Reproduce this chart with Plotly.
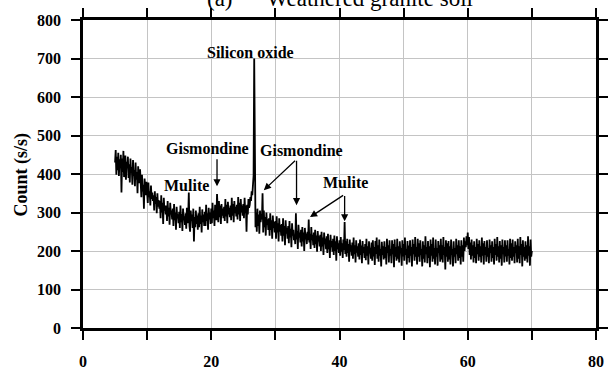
import plotly.graph_objects as go

# 2-theta sampling grid (degrees)
x_start = 5.0
x_step = 0.1

# Count (s/s) read row by row, one row per degree (x = d.0 ... d.9)
counts = [
    # 5
    430, 462, 398, 445, 410, 455, 395, 438, 418, 450,
    # 6
    352, 440, 405, 460, 392, 428, 448, 385, 432, 415,
    # 7
    445, 390, 425, 378, 440, 402, 418, 372, 436, 395,
    # 8
    410, 368, 430, 385, 405, 350, 420, 392, 376, 412,
    # 9
    385, 340, 398, 355, 372, 310, 388, 362, 345, 380,
    # 10
    362, 325, 378, 340, 355, 318, 370, 335, 352, 330,
    # 11
    345, 305, 355, 322, 340, 298, 350, 315, 332, 310,
    # 12
    330, 285, 345, 300, 325, 270, 338, 305, 318, 295,
    # 13
    318, 278, 330, 290, 312, 268, 325, 295, 305, 282,
    # 14
    310, 265, 322, 280, 300, 255, 315, 285, 295, 272,
    # 15
    302, 260, 318, 275, 296, 252, 310, 280, 290, 268,
    # 16
    298, 258, 312, 272, 290, 352, 265, 250, 305, 278,
    # 17
    295, 260, 310, 225, 288, 262, 305, 270, 292, 255,
    # 18
    298, 262, 315, 270, 292, 248, 308, 275, 295, 265,
    # 19
    302, 265, 320, 278, 298, 255, 312, 282, 300, 270,
    # 20
    310, 272, 325, 285, 305, 265, 320, 290, 280, 348,
    # 21
    305, 275, 330, 288, 318, 270, 322, 292, 310, 285,
    # 22
    315, 278, 335, 290, 320, 272, 328, 295, 312, 288,
    # 23
    318, 280, 338, 292, 322, 275, 330, 298, 315, 290,
    # 24
    320, 282, 340, 295, 325, 278, 335, 300, 318, 292,
    # 25
    322, 285, 338, 298, 318, 250, 320, 295, 335, 312,
    # 26
    320, 340, 330, 355, 345, 372, 395, 700, 300, 262,
    # 27
    300, 250, 310, 265, 295, 245, 305, 275, 290, 282,
    # 28
    350, 248, 305, 262, 288, 240, 300, 268, 282, 255,
    # 29
    285, 240, 298, 255, 280, 232, 292, 260, 275, 248,
    # 30
    278, 232, 290, 248, 272, 225, 285, 250, 268, 240,
    # 31
    270, 225, 285, 240, 265, 215, 280, 245, 260, 232,
    # 32
    265, 220, 278, 235, 258, 210, 272, 240, 255, 228,
    # 33
    240, 218, 298, 230, 252, 205, 268, 235, 248, 222,
    # 34
    255, 212, 262, 225, 248, 200, 260, 230, 245, 218,
    # 35
    250, 228, 282, 222, 245, 205, 262, 228, 242, 215,
    # 36
    248, 208, 255, 218, 240, 198, 252, 225, 238, 212,
    # 37
    242, 200, 250, 212, 235, 190, 248, 218, 232, 205,
    # 38
    238, 195, 245, 205, 228, 182, 242, 210, 226, 198,
    # 39
    232, 190, 240, 200, 225, 175, 238, 205, 220, 195,
    # 40
    228, 188, 236, 198, 220, 182, 230, 202, 275, 192,
    # 41
    225, 185, 232, 195, 218, 172, 230, 198, 215, 188,
    # 42
    222, 180, 235, 192, 215, 170, 228, 196, 212, 185,
    # 43
    220, 178, 230, 190, 214, 168, 226, 195, 210, 182,
    # 44
    218, 176, 232, 188, 212, 165, 225, 194, 208, 180,
    # 45
    222, 175, 228, 186, 210, 164, 226, 192, 235, 180,
    # 46
    215, 172, 230, 188, 205, 160, 224, 190, 212, 178,
    # 47
    225, 182, 210, 165, 232, 195, 215, 170, 228, 188,
    # 48
    205, 168, 228, 192, 218, 158, 230, 185, 210, 175,
    # 49
    232, 180, 212, 170, 225, 195, 208, 162, 228, 186,
    # 50
    218, 175, 235, 190, 205, 165, 226, 182, 214, 170,
    # 51
    228, 188, 210, 160, 230, 192, 218, 175, 236, 185,
    # 52
    210, 165, 232, 185, 220, 172, 228, 190, 205, 160,
    # 53
    225, 180, 215, 170, 238, 192, 210, 168, 226, 182,
    # 54
    212, 158, 230, 188, 218, 172, 235, 180, 208, 165,
    # 55
    230, 185, 208, 162, 226, 195, 215, 172, 232, 178,
    # 56
    215, 170, 236, 190, 210, 152, 228, 185, 220, 172,
    # 57
    226, 178, 212, 165, 230, 190, 205, 160, 225, 185,
    # 58
    208, 168, 232, 192, 215, 175, 228, 182, 212, 165,
    # 59
    228, 185, 215, 172, 235, 200, 225, 210, 238, 215,
    # 60
    248, 205, 236, 190, 222, 178, 230, 188, 215, 170,
    # 61
    225, 182, 210, 168, 232, 192, 218, 175, 228, 185,
    # 62
    212, 170, 235, 188, 220, 165, 226, 190, 210, 172,
    # 63
    228, 185, 208, 168, 230, 195, 215, 172, 225, 182,
    # 64
    210, 165, 232, 190, 218, 175, 236, 185, 212, 170,
    # 65
    226, 180, 215, 162, 230, 192, 210, 170, 228, 186,
    # 66
    215, 172, 228, 188, 205, 165, 232, 182, 220, 175,
    # 67
    230, 185, 210, 168, 225, 195, 215, 170, 232, 180,
    # 68
    212, 168, 236, 190, 218, 160, 228, 185, 210, 175,
    # 69
    225, 180, 215, 170, 238, 188, 212, 162, 230, 185,
    # 70
    200,
]

two_theta = [round(x_start + x_step * i, 2) for i in range(len(counts))]

x_tick_vals = [0, 10, 20, 30, 40, 50, 60, 70, 80]
x_tick_text = ["0", "", "20", "", "40", "", "60", "", "80"]
y_tick_vals = [0, 100, 200, 300, 400, 500, 600, 700, 800]

title_text = "(a)\u00a0\u00a0\u00a0\u00a0\u00a0 Weathered granite soil"
y_title = "Count (s/s)"

# peak labels: (text, x, y)
labels = [
    ("Silicon oxide", 26.1, 716),
    ("Gismondine", 19.35, 465),
    ("Gismondine", 34.0, 462),
    ("Mulite", 16.1, 371),
    ("Mulite", 41.0, 377),
]
# arrows: (tip x, tip y, tail x, tail y)
arrows = [
    (20.9, 368, 20.9, 442),
    (28.2, 358, 33.3, 438),
    (33.3, 319, 33.3, 438),
    (35.4, 288, 40.8, 347),
    (40.8, 277, 40.8, 347),
]

FONT = "Liberation Serif"

fig = go.Figure()
fig.add_trace(go.Scatter(
    x=two_theta, y=counts, mode="lines",
    line=dict(color="black", width=1.8),
    showlegend=False, hoverinfo="skip",
))

for t, lx, ly in labels:
    fig.add_annotation(
        x=lx, y=ly, xref="x", yref="y", text="<b>%s</b>" % t,
        showarrow=False, xanchor="center", yanchor="middle",
        font=dict(family=FONT, size=16, color="black"),
    )

for tx, ty, sx, sy in arrows:
    fig.add_annotation(
        x=tx, y=ty, xref="x", yref="y", ax=sx, ay=sy, axref="x", ayref="y",
        text="", showarrow=True, arrowhead=2, arrowsize=1.1, arrowwidth=1.3,
        arrowcolor="black", standoff=0, startstandoff=0,
    )

fig.add_annotation(
    x=0.5, y=1.07, xref="paper", yref="paper", text=title_text,
    showarrow=False, xanchor="center", yanchor="middle",
    font=dict(family=FONT, size=23, color="black"),
)
fig.add_annotation(
    x=-0.12, y=0.5, xref="paper", yref="paper", text="<b>%s</b>" % y_title,
    showarrow=False, xanchor="center", yanchor="middle", textangle=-90,
    font=dict(family=FONT, size=18, color="black"),
)

axis_common = dict(
    showline=True, linecolor="black", linewidth=2.5, mirror="ticks",
    ticks="outside", ticklen=9, tickwidth=2, tickcolor="black",
    showgrid=True, gridcolor="#c4c4c4", gridwidth=1, zeroline=False,
    tickfont=dict(family=FONT, size=16, color="black", weight="bold"),
)

fig.update_xaxes(
    range=[0, 80], tickmode="array", tickvals=x_tick_vals, ticktext=x_tick_text,
    ticklabelstandoff=8, **axis_common,
)
fig.update_yaxes(
    range=[0, 800], tickmode="array", tickvals=y_tick_vals,
    ticklabelstandoff=7, **axis_common,
)

fig.update_layout(
    width=614, height=376,
    margin=dict(l=83, r=6, t=20, b=41, pad=0),
    plot_bgcolor="white", paper_bgcolor="white",
    font=dict(family=FONT, color="black"),
)

fig.write_html("out.html")
